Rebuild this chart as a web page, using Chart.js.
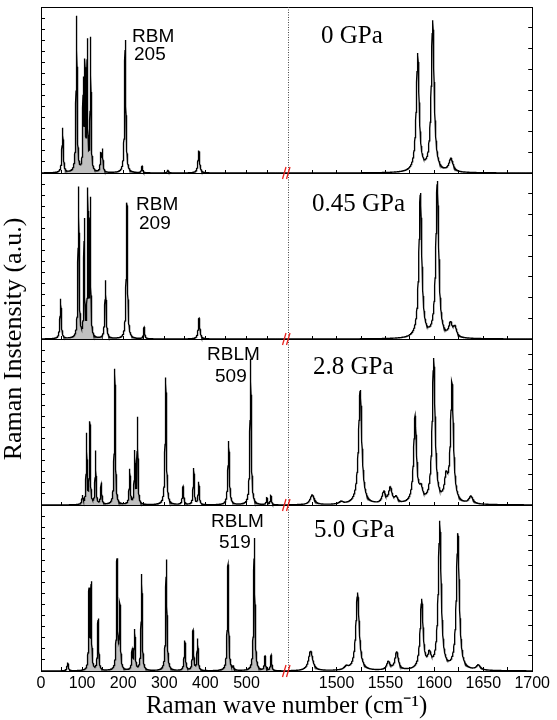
<!DOCTYPE html>
<html>
<head>
<meta charset="utf-8">
<script src="https://cdn.jsdelivr.net/npm/chart.js@4.4.1/dist/chart.umd.min.js"></script>
<style>
  html, body { margin: 0; padding: 0; background: #fff; }
  #wrap { width: 557px; height: 720px; }
</style>
</head>
<body>
<div id="wrap"><canvas id="ramanChart" width="557" height="720"></canvas></div>
<script>
// ------------------------------------------------------------------
//  Data
// ------------------------------------------------------------------
const pressures = ['0 GPa', '0.45 GPa', '2.8 GPa', '5.0 GPa'];
const modeNames = ['RBM', 'RBM', 'RBLM', 'RBLM'];
const modeValues = ['205', '209', '509', '519'];

// peaks: [centre cm-1, height in % of panel, FWHM cm-1]
const lowPeaks0 = [[52.7, 27, 3.5], [86.7, 94, 3], [102.8, 52, 2.2], [106.9, 62, 2.2], [112.5, 76, 2.2],
  [120.7, 80, 2.5], [145.7, 10, 3], [149.5, 13, 3], [205, 80, 3.5], [246, 4, 3], [309, 1.5, 4], [384, 13.5, 4.5]];
const highPeaks0 = [[1583, 71, 3.5], [1598.3, 91, 3.5], [1617, 8, 5]];

const lowPeaks1 = [[47.8, 24, 3.5], [91.5, 91, 3], [105.3, 70, 2.2], [114, 86, 2.2], [119.8, 82, 2.5],
  [157, 35, 3.5], [209, 82, 3.5], [251, 7, 3], [384.6, 12.5, 4.5]];
const highPeaks1 = [[1585.7, 87, 3.5], [1603, 94, 3.5], [1616.5, 8, 4], [1621, 6, 4]];

const lowPeaks2 = [[101, 5, 3], [111, 42, 2.5], [119, 49, 2.5], [132.8, 32, 2.5], [146.6, 13, 3],
  [179.7, 82, 3], [216, 21, 3], [228, 31, 2.5], [234.8, 52, 2.5], [303.6, 77, 3.5], [345.7, 11, 3.5],
  [371.6, 22, 3], [383.8, 13.5, 3], [456.6, 38.5, 4], [510, 88, 3.5], [549.7, 4, 3], [559.4, 5.5, 3]];
const highPeaks2 = [[1475.2, 6, 5], [1504.8, 1.5, 5], [1524.2, 69, 4], [1548.3, 7, 4], [1555, 9.5, 4],
  [1561, 3.5, 4], [1580.3, 52, 3.5], [1586.4, 7, 4], [1599.3, 87, 3.5], [1612, 13, 4], [1618, 72, 3.5],
  [1637.4, 4.5, 5]];

const lowPeaks3 = [[65, 5, 3.5], [117, 47, 2.5], [122, 51, 2.5], [139, 31, 3], [185, 66, 3], [192, 38, 3],
  [222, 12, 3], [228, 24, 3], [245, 58, 3], [305, 67, 3.5], [350, 18, 3.5], [370, 24, 3], [381, 19, 3],
  [455, 64, 3.5], [468, 2, 3], [519, 80, 3.5], [545, 8.5, 3], [560, 9.5, 3]];
const highPeaks3 = [[1473.5, 12, 5], [1510, 2, 5], [1521.5, 47, 4], [1553, 5, 4], [1561.5, 11, 4],
  [1587, 42, 3.5], [1595, 8, 4], [1605.5, 89, 3.5], [1624, 82, 3.5], [1645, 3, 5]];

const lowPeaks = [lowPeaks0, lowPeaks1, lowPeaks2, lowPeaks3];
const highPeaks = [highPeaks0, highPeaks1, highPeaks2, highPeaks3];

// shaded (low frequency) region of each panel, cm-1
const shadeRanges = [[55, 155], [70, 150], [95, 245], [98, 565]];

// broken x axis
const lowRange = [0, 600];
const highRange = [1450, 1700];
const xTicksLow = [0, 50, 100, 150, 200, 250, 300, 350, 400, 450, 500, 550];
const xTicksHigh = [1475, 1500, 1525, 1550, 1575, 1600, 1625, 1650, 1675, 1700];
const xLabels = [0, 100, 200, 300, 400, 500, 1500, 1550, 1600, 1650, 1700];
const rightTickCounts = [8, 8, 11, 11];

// ------------------------------------------------------------------
//  Helpers
// ------------------------------------------------------------------
const HIGH_STRETCH = 2.38;   // right segment is drawn wider per cm-1
function toAxis(v) {
    return v <= lowRange[1] ? v : lowRange[1] + (v - highRange[0]) * HIGH_STRETCH;
}
const AXIS_MAX = toAxis(highRange[1]);
const xTickValues = xTicksLow.concat(xTicksHigh);

function spectrum(peaks, from, to, offset) {
    const step = 0.25;
    const n = Math.round((to - from) / step);
    const pts = [];
    for (let i = 0; i <= n; i++) {
        const v = from + i * step;
        let s = 0;
        for (const [c, h, w] of peaks) {
            const t = 2 * (v - c) / w;
            s += h / (1 + t * t);
        }
        pts.push({ x: toAxis(v), y: offset + s / 100 });
    }
    return pts;
}

const datasets = [];
for (let p = 0; p < 4; p++) {
    const off = 3 - p;
    const line = { borderColor: '#000', borderWidth: 1.35, pointRadius: 0, fill: false, order: 0 };
    datasets.push(Object.assign({ data: spectrum(lowPeaks[p], lowRange[0], lowRange[1], off) }, line));
    datasets.push(Object.assign({ data: spectrum(highPeaks[p], highRange[0], highRange[1], off) }, line));
    datasets.push({
        data: spectrum(lowPeaks[p], shadeRanges[p][0], shadeRanges[p][1], off),
        borderWidth: 0, pointRadius: 0, backgroundColor: '#c0c0c0',
        fill: { value: off }, order: 1
    });
}

function setXTicks(scale) {
    scale.ticks = xTickValues.map(v => ({ value: toAxis(v) }));
}
function setLeftTicks(scale) {
    const t = [];
    for (let p = 0; p < 4; p++) for (let k = 0; k < 15; k++) t.push({ value: p + k / 15 });
    t.push({ value: 4 });
    scale.ticks = t;
}
function setRightTicks(scale) {
    const t = [];
    for (let p = 0; p < 4; p++) {
        const n = rightTickCounts[3 - p];
        for (let k = 0; k < n; k++) t.push({ value: p + k / n });
    }
    t.push({ value: 4 });
    scale.ticks = t;
}

const frameGrid = { drawOnChartArea: false, color: '#000', tickLength: -4, lineWidth: 1 };
const frameBorder = { color: '#000', width: 1 };

function separatorAxis(yValue, ticks) {
    return {
        type: 'linear', min: 0, max: AXIS_MAX, position: { y: yValue }, z: 1,
        afterBuildTicks: setXTicks,
        ticks: { display: false },
        grid: Object.assign({}, frameGrid, { drawTicks: ticks }),
        border: frameBorder
    };
}

// ------------------------------------------------------------------
//  Annotations: break marks, dotted divider, panel labels
// ------------------------------------------------------------------
const panelText = [
    { px: 321, py: 36, mx: [132, 134], my: [35, 53] },
    { px: 312, py: 38, mx: [136, 139], my: [37, 56] },
    { px: 313, py: 35, mx: [207, 215], my: [21, 43] },
    { px: 314, py: 32, mx: [211, 219], my: [22, 43] }
];

const decorations = {
    id: 'decorations',
    afterDraw(chart) {
        const { ctx, chartArea, scales } = chart;
        const bx = Math.round(scales.x.getPixelForValue(toAxis(lowRange[1]))) + 0.5;
        ctx.save();
        ctx.strokeStyle = '#444';
        ctx.lineWidth = 1;
        ctx.setLineDash([1, 1.5]);
        ctx.beginPath();
        ctx.moveTo(bx, chartArea.top);
        ctx.lineTo(bx, chartArea.bottom);
        ctx.stroke();
        ctx.setLineDash([]);

        ctx.strokeStyle = '#e8201c';
        ctx.lineWidth = 1.3;
        for (let p = 0; p < 4; p++) {
            const yb = scales.y.getPixelForValue(p);
            for (const c of [bx - 4, bx]) {
                ctx.beginPath();
                ctx.moveTo(c - 2, yb + 6);
                ctx.lineTo(c + 1.5, yb - 6);
                ctx.stroke();
            }
        }

        ctx.fillStyle = '#000';
        ctx.textBaseline = 'alphabetic';
        ctx.textAlign = 'left';
        for (let p = 0; p < 4; p++) {
            const top = scales.y.getPixelForValue(4 - p);
            const t = panelText[p];
            ctx.font = '25px "Liberation Serif", "Times New Roman", serif';
            ctx.fillText(pressures[p], t.px, top + t.py);
            ctx.font = '19px "Liberation Sans", Arial, sans-serif';
            ctx.fillText(modeNames[p], t.mx[0], top + t.my[0]);
            ctx.fillText(modeValues[p], t.mx[1], top + t.my[1]);
        }
        ctx.restore();
    }
};

// ------------------------------------------------------------------
//  Chart
// ------------------------------------------------------------------
new Chart(document.getElementById('ramanChart'), {
    type: 'line',
    data: { datasets },
    plugins: [decorations],
    options: {
        responsive: false,
        animation: false,
        events: [],
        layout: { padding: { top: 7, left: 0, right: 0, bottom: 0 } },
        plugins: { legend: { display: false }, tooltip: { enabled: false } },
        scales: {
            x: {
                type: 'linear', min: 0, max: AXIS_MAX, position: 'bottom', z: 1,
                afterBuildTicks: setXTicks,
                afterFit: s => { s.height = 49; },
                ticks: {
                    autoSkip: false, maxRotation: 0, padding: 7, color: '#000',
                    font: { family: '"Liberation Sans", Arial, sans-serif', size: 16 },
                    callback: (value, index) => {
                        const v = xTickValues[index];
                        return xLabels.includes(v) ? String(v) : '';
                    }
                },
                grid: frameGrid,
                border: frameBorder,
                title: {
                    display: true, text: 'Raman wave number (cm\u207B\u00B9)', color: '#000',
                    font: { family: '"Liberation Serif", "Times New Roman", serif', size: 25 },
                    padding: { top: 0, bottom: -1 }
                }
            },
            xSep1: separatorAxis(1, true),
            xSep2: separatorAxis(2, true),
            xSep3: separatorAxis(3, true),
            xTop: separatorAxis(4, false),
            y: {
                type: 'linear', min: 0, max: 4, position: 'left', z: 1,
                afterBuildTicks: setLeftTicks,
                afterFit: s => { s.width = 41; },
                ticks: { display: false },
                grid: frameGrid,
                border: frameBorder,
                title: {
                    display: true, text: 'Raman Instensity (a.u.)', color: '#000',
                    font: { family: '"Liberation Serif", "Times New Roman", serif', size: 26 },
                    padding: { top: -1, bottom: 0 }
                }
            },
            yRight: {
                type: 'linear', min: 0, max: 4, position: 'right', z: 1,
                afterBuildTicks: setRightTicks,
                afterFit: s => { s.width = 24; },
                ticks: { display: false },
                grid: frameGrid,
                border: frameBorder
            }
        }
    }
});
</script>
</body>
</html>
